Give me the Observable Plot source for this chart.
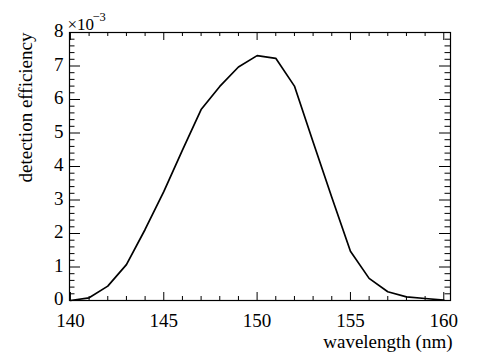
<!DOCTYPE html>
<html>
<head>
<meta charset="utf-8">
<script src="https://cdn.jsdelivr.net/npm/d3@7"></script>
<script src="https://cdn.jsdelivr.net/npm/@observablehq/plot@0.6"></script>
<style>
  html, body { margin: 0; padding: 0; background: #fff; }
  svg { display: block; }
</style>
</head>
<body>
<div id="chart"></div>
<script>
// Data
const wavelength = [140, 141, 142, 143, 144, 145, 146, 147, 148, 149, 150,
                    151, 152, 153, 154, 155, 156, 157, 158, 159, 160];
const efficiency = [0.00, 0.08, 0.43, 1.07, 2.12, 3.25, 4.49, 5.70, 6.39, 6.97, 7.31,
                    7.23, 6.40, 4.73, 3.08, 1.47, 0.66, 0.26, 0.11, 0.06, 0.01]; // ×10^-3

const xTickLabels = [140, 145, 150, 155, 160];
const yTickLabels = [0, 1, 2, 3, 4, 5, 6, 7, 8];
const xMinorTicks = d3.range(140, 161, 1).filter(d => d % 5 !== 0);
const yMinorTicks = d3.range(0, 8.001, 0.2).map(d => +d.toFixed(1)).filter(d => Math.abs(d - Math.round(d)) > 1e-6);

const xTitle = "wavelength (nm)";
const yTitle = "detection efficiency";
const exponentBase = "×10";
const exponent = "−3";

const data = wavelength.map((w, i) => ({w, e: efficiency[i]}));

const W = 491, H = 354;
const mL = 69, mR = 41, mT = 32, mB = 54;
const frameW = W - mL - mR, frameH = H - mT - mB;
const font = "Liberation Serif, Tinos, Times New Roman, Times, DejaVu Serif, serif";
const fs = 19;

const chart = Plot.plot({
  width: W,
  height: H,
  marginLeft: mL,
  marginRight: mR,
  marginTop: mT,
  marginBottom: mB,
  style: {background: "#fff", color: "#000"},
  x: {domain: [139.95, 160.36], axis: null},
  y: {domain: [0, 8], axis: null},
  marks: [
    Plot.tickX(xTickLabels, {x: d => d, insetTop: frameH - 8, stroke: "#000", strokeWidth: 1}),
    Plot.tickX(xMinorTicks, {x: d => d, insetTop: frameH - 4, stroke: "#000", strokeWidth: 1}),
    Plot.tickX(xTickLabels, {x: d => d, insetBottom: frameH - 8, stroke: "#000", strokeWidth: 1}),
    Plot.tickX(xMinorTicks, {x: d => d, insetBottom: frameH - 4, stroke: "#000", strokeWidth: 1}),
    Plot.tickY(yTickLabels, {y: d => d, insetRight: frameW - 11, stroke: "#000", strokeWidth: 1}),
    Plot.tickY(yMinorTicks, {y: d => d, insetRight: frameW - 5.5, stroke: "#000", strokeWidth: 1}),
    Plot.tickY(yTickLabels, {y: d => d, insetLeft: frameW - 11, stroke: "#000", strokeWidth: 1}),
    Plot.tickY(yMinorTicks, {y: d => d, insetLeft: frameW - 5.5, stroke: "#000", strokeWidth: 1}),
    Plot.frame({stroke: "#000", strokeWidth: 1.2}),
    Plot.line(data, {x: "w", y: "e", stroke: "#000", strokeWidth: 1.7}),
    Plot.text(xTickLabels, {x: d => d, text: d => String(d), frameAnchor: "bottom", lineAnchor: "bottom",
      dy: 26.5, fontSize: fs, fontFamily: font, fill: "#000"}),
    Plot.text(yTickLabels, {y: d => d, text: d => String(d), frameAnchor: "left", textAnchor: "end",
      dx: -6, dy: -1.5, fontSize: fs, fontFamily: font, fill: "#000"}),
    Plot.text([exponentBase], {text: d => d, frameAnchor: "top-left", textAnchor: "start", lineAnchor: "bottom",
      dx: -2, dy: -3, fontSize: 17, fontFamily: font, fill: "#000"}),
    Plot.text([exponent], {text: d => d, frameAnchor: "top-left", textAnchor: "start", lineAnchor: "bottom",
      dx: 23, dy: -12, fontSize: 12.5, fontFamily: font, fill: "#000"}),
    Plot.text([xTitle], {text: d => d, frameAnchor: "bottom-right", textAnchor: "end", lineAnchor: "bottom",
      dx: 2, dy: 47.5, fontSize: fs, fontFamily: font, fill: "#000"}),
    Plot.text([yTitle], {text: d => d, frameAnchor: "top-left", textAnchor: "end", lineAnchor: "bottom",
      rotate: -90, dx: -38, dy: 0, fontSize: fs, fontFamily: font, fill: "#000"})
  ]
});

document.getElementById("chart").appendChild(chart);
</script>
</body>
</html>
